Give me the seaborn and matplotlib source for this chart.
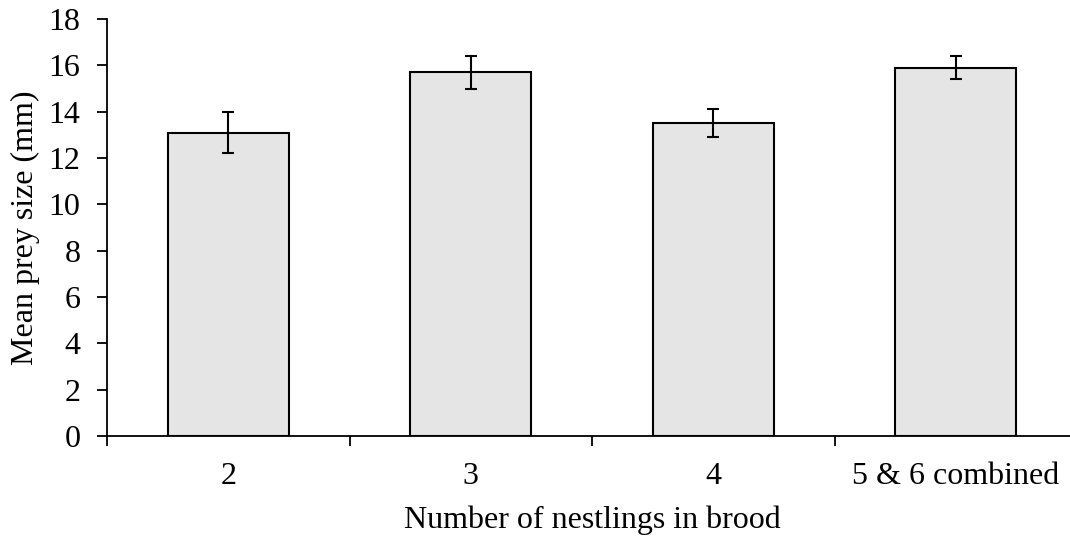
import matplotlib
matplotlib.use("Agg")
import matplotlib.pyplot as plt
import numpy as np
import pandas as pd
import seaborn as sns

categories = ["2", "3", "4", "5 & 6 combined"]
mean_size = [13.1, 15.7, 13.5, 15.9]
err = [0.9, 0.7, 0.6, 0.5]

sns.set_style("white")
plt.rcParams["font.family"] = ["Liberation Serif", "DejaVu Serif"]
plt.rcParams["text.color"] = "black"
plt.rcParams["axes.labelcolor"] = "black"
plt.rcParams["xtick.color"] = "black"
plt.rcParams["ytick.color"] = "black"

df = pd.DataFrame({"brood": categories, "size": mean_size})

fig = plt.figure(figsize=(10.7, 5.42), dpi=100)
ax = fig.add_axes([107 / 1070, 106 / 542, 970 / 1070, 417 / 542])

sns.barplot(data=df, x="brood", y="size", color="#e5e5e5", width=0.5,
            edgecolor="black", linewidth=1.5, saturation=1, errorbar=None, ax=ax)
ax.errorbar(np.arange(len(categories)), mean_size, yerr=err, fmt="none",
            ecolor="black", elinewidth=1.5, capsize=4.5, capthick=1.5)

ax.set_xlim(-0.5, 3.5)
ax.set_ylim(0, 18)
ax.set_yticks(range(0, 19, 2))
ax.set_xticks(np.arange(-0.5, 3.0, 1.0), minor=True)
ax.tick_params(axis="x", which="major", length=0, pad=19, labelsize=23)
ax.tick_params(axis="x", which="minor", length=7, width=1.3, direction="out")
ax.tick_params(axis="y", length=7, width=1.3, direction="out", pad=12, labelsize=23)
ax.tick_params(axis="both", which="both", bottom=True, left=True)

for side in ["top", "right"]:
    ax.spines[side].set_visible(False)
for side in ["left", "bottom"]:
    ax.spines[side].set_color("black")
    ax.spines[side].set_linewidth(1.3)

ax.set_xlabel("Number of nestlings in brood", fontsize=23, labelpad=10)
ax.set_ylabel("Mean prey size (mm)", fontsize=23, labelpad=6.5)

fig.savefig("out.png", dpi=100)
